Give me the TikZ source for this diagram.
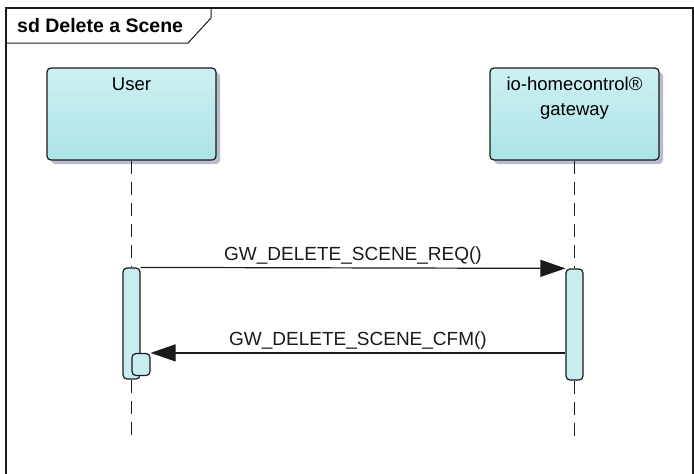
\documentclass[tikz,border=0pt]{standalone}
\usepackage{fontspec}
\setmainfont{Liberation Sans}
\usepackage{tikz}
\usetikzlibrary{arrows.meta,positioning,shadows,calc}
\definecolor{ink}{HTML}{1A1A1A}
\definecolor{boxtop}{HTML}{CEF0F2}
\definecolor{boxbot}{HTML}{ABE3E6}
\definecolor{boxshade}{HTML}{B7BBCD}
\definecolor{actfill}{HTML}{C8EDF0}
\tikzset{
  lifebox/.style={draw=ink,line width=1.2pt,rounded corners=4pt,
                  top color=boxtop,bottom color=boxbot,
                  minimum width=169pt,minimum height=92pt,inner sep=0pt,
                  drop shadow={shadow xshift=4pt,shadow yshift=-4pt,fill=boxshade,opacity=1}},
  boxlabel/.style={font=\fontsize{18.5}{25}\selectfont,align=center,anchor=north},
  actbar/.style={draw=ink,fill=actfill,line width=1.2pt,rounded corners=4pt,
                 minimum width=17pt,inner sep=0pt},
  lifeline/.style={ink,line width=1.2pt,dash pattern=on 13pt off 8pt},
  msgarr/.style={-{Triangle[length=25pt,width=17pt]},ink,line width=1.2pt},
  msglabel/.style={font=\fontsize{19}{22}\selectfont,inner sep=3pt}
}
\begin{document}
\begin{tikzpicture}[x=1pt,y=-1pt]
  \useasboundingbox (0,0) rectangle (694,474);
  % frame
  \draw[ink,line width=1.3pt] (6,474) -- (6,8) -- (693,8) -- (693,474);
  \draw[ink,line width=1pt] (6,43) -- (188,43) -- (211,18) -- (211,8);
  \node[font=\fontsize{19.5}{22}\selectfont\bfseries,anchor=west,inner sep=0pt] (title) at (17,26) {sd Delete a Scene};

  % lifeline heads
  \node[lifebox,label={[boxlabel,yshift=-7pt]north:User}] (user) at (131.5,114) {};
  \node[lifebox,label={[boxlabel,yshift=-6pt]north:io-homecontrol®\\gateway}] (gw) at (574.5,114) {};

  % activations
  \node[actbar,minimum height=111pt] (useract) at (131.5,323.5) {};
  \node[actbar,minimum height=111pt] (gwact) at (574.5,324.5) {};
  \node[actbar,minimum width=18pt,minimum height=22pt] (usersub) at (141,364.5) {};
  \coordinate (userend) at (131.5,441);
  \coordinate (gwend) at (574.5,441);

  % lifelines
  \draw[lifeline] (user.south) -- (useract.north);
  \draw[lifeline] (useract.south) -- (userend);
  \draw[lifeline] (gw.south) -- (gwact.north);
  \draw[lifeline] (gwact.south) -- (gwend);

  % messages
  \draw[msgarr] (useract.north east) -- (gwact.north west)
    node[msglabel,midway,above] {GW\_DELETE\_SCENE\_REQ()};
  \draw[msgarr] (gwact.west |- usersub.north east) -- (usersub.north east)
    node[msglabel,midway,above] {GW\_DELETE\_SCENE\_CFM()};
\end{tikzpicture}
\end{document}
